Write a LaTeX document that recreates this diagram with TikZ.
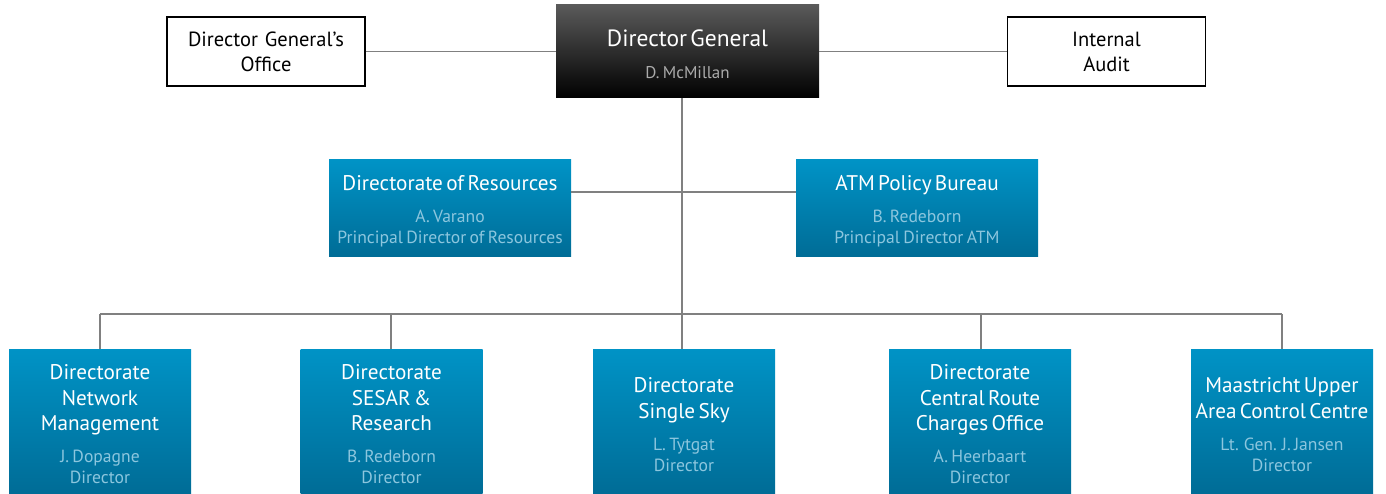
\documentclass[tikz,border=0pt]{standalone}
\usepackage{fontspec}
\setmainfont{PT Sans}
\definecolor{boxtop}{HTML}{0093C6}
\definecolor{boxbot}{HTML}{006C96}
\definecolor{subc}{HTML}{8CC6DE}
\definecolor{dgtop}{HTML}{5A5A5A}
\definecolor{dgbot}{HTML}{000000}
\definecolor{dgsub}{HTML}{ABABAB}
\definecolor{linegray}{HTML}{808080}
\newcommand{\ttlf}{\fontsize{21.2}{25.5}\selectfont\color{white}}
\newcommand{\subf}{\fontsize{17.6}{21}\selectfont\color{subc}}
\newcommand{\toppad}[1]{\hrule height 0pt width 0pt\vspace{#1}}
\newcommand{\entry}[2]{\toppad{6pt}{\ttlf #1\par}\vspace{11pt}{\subf #2\par}}
\tikzset{
  conn/.style={draw=linegray, line width=1.3pt},
  bluebox/.style={rectangle, top color=boxtop, bottom color=boxbot, draw=none,
    inner sep=0pt, align=center},
  bottombox/.style={bluebox, minimum width=182pt, minimum height=145pt, text width=180pt},
  midbox/.style={bluebox, minimum width=242pt, minimum height=97pt, text width=240pt},
  whitebox/.style={rectangle, draw=black, line width=1.2pt, fill=white,
    minimum width=198pt, minimum height=69pt, inner sep=0pt, align=center,
    text width=196pt, font=\fontsize{20.5}{25}\selectfont},
  dgbox/.style={rectangle, top color=dgtop, bottom color=dgbot, draw=none,
    minimum width=263pt, minimum height=93pt, inner sep=0pt, align=center, text width=260pt},
}
\begin{document}
\begin{tikzpicture}[x=1pt,y=-1pt]
\useasboundingbox (0,0) rectangle (1386,494);
\coordinate (bus) at (682,314);
\coordinate (busL) at (100,314);
\coordinate (busR) at (1282,314);
\coordinate (midL) at (571,192);
\coordinate (midR) at (796,192);

\node[dgbox] (dg) at (687.5,51.5) {\toppad{5pt}{\fontsize{23.5}{26}\selectfont\color{white} Director General\par}\vspace{11pt}{\fontsize{17}{21}\selectfont\color{dgsub} D. McMillan\par}};
\node[whitebox] (dgo) at (266,51.5) {Director General’s\\Office};
\node[whitebox] (ia) at (1106.5,51.5) {Internal\\Audit};

\node[midbox] (res) at (450,208.5) {\entry{Directorate of Resources}{A. Varano\\Principal Director of Resources}};
\node[midbox] (atm) at (917,208.5) {\entry{ATM Policy Bureau}{B. Redeborn\\Principal Director ATM}};

\node[bottombox] (nm) at (100,421.5) {\entry{Directorate\\Network\\Management}{J. Dopagne\\Director}};
\node[bottombox] (sesar) at (391.5,421.5) {\entry{Directorate\\SESAR \&\\Research}{B. Redeborn\\Director}};
\node[bottombox] (ss) at (684,421.5) {\entry{Directorate\\Single Sky}{L. Tytgat\\Director}};
\node[bottombox] (crco) at (980,421.5) {\entry{Directorate\\Central Route\\Charges Office}{A. Heerbaart\\Director}};
\node[bottombox] (muac) at (1282,421.5) {\entry{Maastricht Upper\\Area Control Centre}{Lt. Gen. J. Jansen\\Director}};

\draw[conn] (dgo.east) -- (dg.west);
\draw[conn] (dg.east) -- (ia.west);
\draw[conn] (dg.south -| bus) -- (bus);
\draw[conn] (res.east |- midL) -- (midR -| atm.west);
\draw[conn] (busL) -- (busR);
\draw[conn] (busL) -- (nm.north -| busL);
\draw[conn] (391,314) coordinate (b2) -- (sesar.north -| b2);
\draw[conn] (bus) -- (ss.north -| bus);
\draw[conn] (981,314) coordinate (b4) -- (crco.north -| b4);
\draw[conn] (busR) -- (muac.north -| busR);
\end{tikzpicture}
\end{document}
